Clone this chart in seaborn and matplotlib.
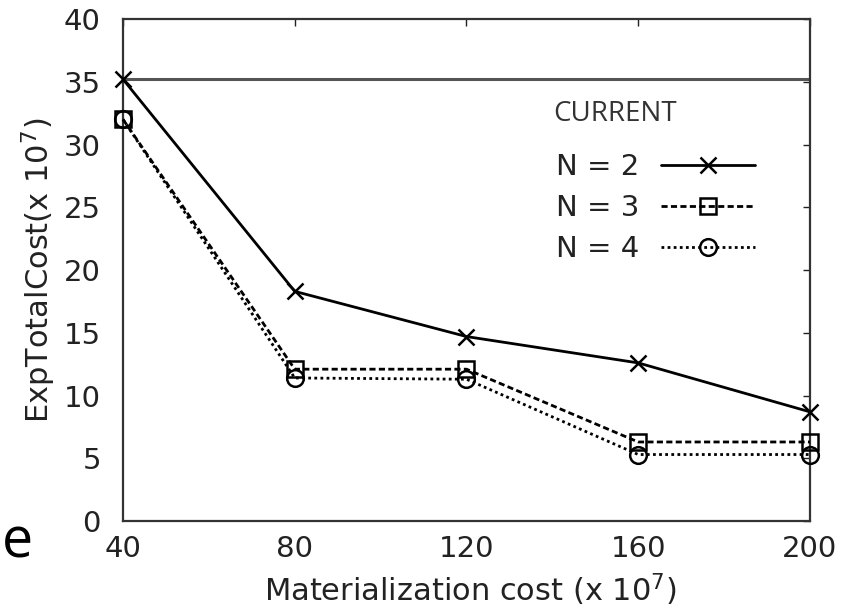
import matplotlib
matplotlib.use("Agg")
import matplotlib.pyplot as plt
import numpy as np
import pandas as pd
import seaborn as sns

# values
x_cost = [40, 80, 120, 160, 200]
n2_cost = [35.2, 18.3, 14.7, 12.6, 8.7]
n3_cost = [32.0, 12.1, 12.1, 6.3, 6.3]
n4_cost = [32.0, 11.4, 11.3, 5.3, 5.3]
current_cost = 35.2
series_names = ["N = 2", "N = 3", "N = 4"]
y_ticks = [0, 5, 10, 15, 20, 25, 30, 35, 40]

sns.set_theme(style="white")
plt.rcParams["font.family"] = ["DejaVu Sans"]

fig = plt.figure(figsize=(8.46, 6.13), dpi=100)
ax = fig.add_axes([0.1454, 0.150, 0.812, 0.819])

ax.axhline(current_cost, color="#555555", lw=2.2, zorder=1)

markers = ["x", "s", "o"]
linestyles = ["-", (0, (2.2, 1.2)), (0, (1, 1.2))]
for name, vals, m, ls in zip(series_names, [n2_cost, n3_cost, n4_cost], markers, linestyles):
    sns.lineplot(
        x=x_cost, y=vals, color="black", marker=m, linestyle=ls,
        markersize=12, markeredgewidth=1.8, markerfacecolor="none",
        markeredgecolor="black", lw=2, ax=ax, label=name, legend=False,
        clip_on=False, zorder=3,
    )

ax.set_xlim(40, 200)
ax.set_ylim(0, 40)
ax.set_xticks(x_cost)
ax.set_yticks(y_ticks)
ax.tick_params(direction="in", length=5, width=1, top=True, right=True,
               labelsize=21, colors="#222222", pad=10)
ax.tick_params(axis="y", pad=16)
for sp in ax.spines.values():
    sp.set_color("#333333")
    sp.set_linewidth(1.6)

ax.set_xlabel("Materialization cost (x 10$^7$)", fontsize=22, color="#222222")
ax.set_ylabel("ExpTotalCost(x 10$^7$)", fontsize=22, color="#222222")
ax.xaxis.set_label_coords(0.505, -0.10)
ax.yaxis.set_label_coords(-0.094, 0.5)

# legend drawn as in the original: labels left, samples right
ax.text(0.626, 0.81, "CURRENT", transform=ax.transAxes, fontsize=20,
        family=["Open Sans", "DejaVu Sans"], color="#333333", va="center", ha="left")
handles, labels = ax.get_legend_handles_labels()
leg = ax.legend(handles, labels, markerfirst=False, frameon=False, fontsize=21,
                handlelength=3.2, handletextpad=0.75, labelspacing=0.45,
                loc="center", bbox_to_anchor=(0.775, 0.623))
for t in leg.get_texts():
    t.set_color("#222222")

fig.text(0.002, 0.09, "e", fontsize=40, family=["Open Sans", "DejaVu Sans"], color="black")

fig.savefig("out.png", dpi=100)
